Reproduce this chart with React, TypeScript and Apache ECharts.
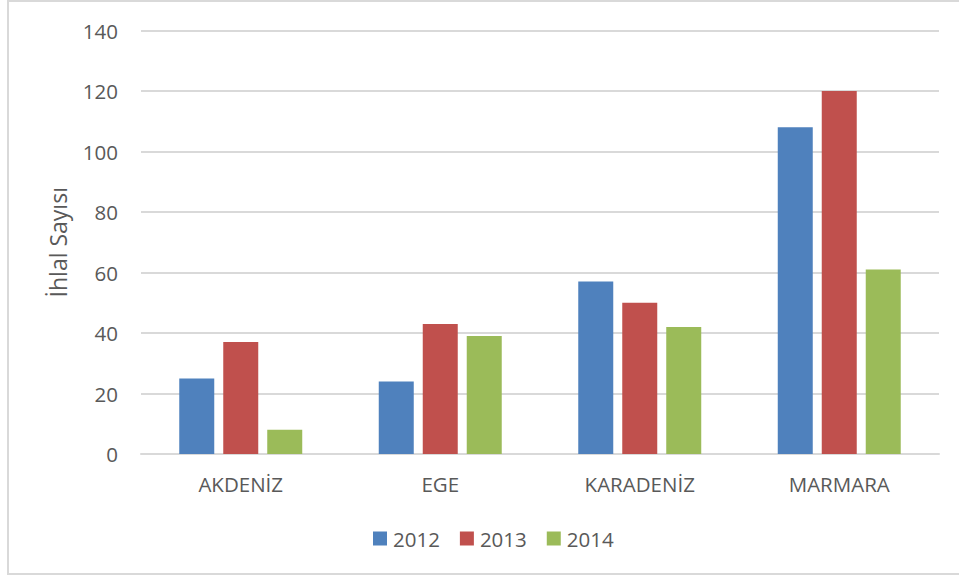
import React, { useEffect, useRef } from "react";
import * as echarts from "echarts";

const categories = ["AKDENİZ", "EGE", "KARADENİZ", "MARMARA"];
const seriesNames = ["2012", "2013", "2014"];
const values2012 = [25, 24, 57, 108];
const values2013 = [37, 43, 50, 120];
const values2014 = [8, 39, 42, 61];
const colors = ["#4f81bd", "#c0504d", "#9bbb59"];
const yName = "İhlal Sayısı";

const FONT = "'Open Sans', 'Liberation Sans', sans-serif";
const TXT = "#595959";

export default function App() {
  const ref = useRef<HTMLDivElement>(null);
  useEffect(() => {
    if (!ref.current) return;
    const chart = echarts.init(ref.current, undefined, { renderer: "svg" });
    const data = [values2012, values2013, values2014];
    chart.setOption({
      animation: false,
      backgroundColor: "#ffffff",
      textStyle: { fontFamily: FONT, color: TXT },
      grid: { left: 141, right: 20, top: 30.5, bottom: 124, containLabel: false },
      legend: {
        data: seriesNames,
        left: 373,
        top: 528,
        padding: 0,
        itemWidth: 14,
        itemHeight: 14,
        itemGap: 20,
        icon: "rect",
        textStyle: { fontFamily: FONT, fontSize: 20.5, color: TXT, padding: [0, 0, 0, 1] },
      },
      xAxis: {
        type: "category",
        data: categories,
        axisLine: { show: true, lineStyle: { color: "#d9d9d9", width: 2 } },
        axisTick: { show: false },
        axisLabel: { fontFamily: FONT, fontSize: 20.5, color: TXT, margin: 19 },
      },
      yAxis: {
        type: "value",
        min: 0,
        max: 140,
        interval: 20,
        name: yName,
        nameLocation: "middle",
        nameRotate: 90,
        nameGap: 72,
        nameTextStyle: { fontFamily: FONT, fontSize: 23, color: TXT },
        axisLine: { show: false },
        axisTick: { show: false },
        splitLine: { lineStyle: { color: "#d9d9d9", width: 2 } },
        axisLabel: { fontFamily: FONT, fontSize: 20.5, color: TXT, margin: 23 },
      },
      series: seriesNames.map((n, i) => ({
        name: n,
        type: "bar",
        data: data[i],
        barWidth: 35,
        barGap: "25.7%",
        itemStyle: { color: colors[i] },
      })),
    });
    return () => chart.dispose();
  }, []);
  return (
    <div style={{ position: "absolute", left: 0, top: 0, width: 959, height: 578, background: "#fff" }}>
      <div ref={ref} style={{ position: "absolute", left: 0, top: 0, width: 959, height: 578 }} />
      <div
        style={{
          position: "absolute",
          left: 7,
          top: 0,
          width: 980,
          height: 575,
          borderLeft: "2px solid #d9d9d9",
          borderTop: "2px solid #d9d9d9",
          borderBottom: "2px solid #d9d9d9",
          boxSizing: "border-box",
          pointerEvents: "none",
        }}
      />
    </div>
  );
}
